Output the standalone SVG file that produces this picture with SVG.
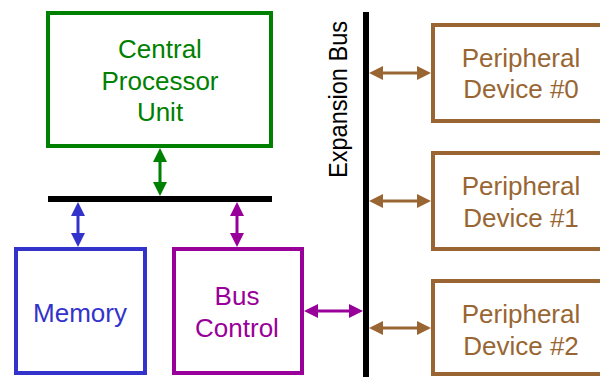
<svg xmlns="http://www.w3.org/2000/svg" width="600" height="377" viewBox="0 0 600 377">
  <style>
    text { font-family: "Liberation Sans", Arial, sans-serif; font-size: 26px; text-anchor: middle; }
    .box { fill: #ffffff; stroke-width: 4; }
    .bus { stroke: #000000; stroke-width: 6; fill: none; }
    .link { stroke-width: 3; fill: none; }
    .green { stroke: #008000; }
    .blue { stroke: #3333cc; }
    .purple { stroke: #990099; }
    .brown { stroke: #996633; }
  </style>
  <defs>
    <marker id="ah-green" viewBox="0 0 14 14" refX="10" refY="7" markerWidth="14" markerHeight="14" markerUnits="userSpaceOnUse" orient="auto-start-reverse">
      <path d="M0,0 L14,7 L0,14 z" fill="#008000"/>
    </marker>
    <marker id="ah-blue" viewBox="0 0 14 14" refX="10" refY="7" markerWidth="14" markerHeight="14" markerUnits="userSpaceOnUse" orient="auto-start-reverse">
      <path d="M0,0 L14,7 L0,14 z" fill="#3333cc"/>
    </marker>
    <marker id="ah-purple" viewBox="0 0 14 14" refX="10" refY="7" markerWidth="14" markerHeight="14" markerUnits="userSpaceOnUse" orient="auto-start-reverse">
      <path d="M0,0 L14,7 L0,14 z" fill="#990099"/>
    </marker>
    <marker id="ah-brown" viewBox="0 0 14 14" refX="10" refY="7" markerWidth="14" markerHeight="14" markerUnits="userSpaceOnUse" orient="auto-start-reverse">
      <path d="M0,0 L14,7 L0,14 z" fill="#996633"/>
    </marker>
  </defs>

  <rect width="600" height="377" fill="#ffffff"/>

  <!-- system bus and expansion bus -->
  <g id="system-bus">
    <line class="bus" x1="48" y1="199" x2="272" y2="199"/>
  </g>
  <g id="expansion-bus">
    <line class="bus" x1="366" y1="12" x2="366" y2="377"/>
    <text transform="translate(347,99.5) rotate(-90)" x="0" y="0" fill="#000000" font-size="19" textLength="157" lengthAdjust="spacingAndGlyphs">Expansion Bus</text>
  </g>

  <g id="cpu">
    <rect class="box green" x="48" y="13" width="223" height="133"/>
    <text x="160" y="58" fill="#008000">Central</text>
    <text x="160" y="90" fill="#008000">Processor</text>
    <text x="160" y="121" fill="#008000">Unit</text>
  </g>

  <g id="memory">
    <rect class="box blue" x="16" y="249" width="129" height="124"/>
    <text x="80" y="322" fill="#3333cc">Memory</text>
  </g>

  <g id="bus-control">
    <rect class="box purple" x="174" y="249" width="128" height="124"/>
    <text x="237" y="305" fill="#990099">Bus</text>
    <text x="237" y="337" fill="#990099">Control</text>
  </g>

  <g id="peripheral-0">
    <rect class="box brown" x="433" y="25" width="200" height="96"/>
    <text x="521" y="67" fill="#996633">Peripheral</text>
    <text x="521" y="98" fill="#996633">Device #0</text>
  </g>

  <g id="peripheral-1">
    <rect class="box brown" x="433" y="153" width="200" height="96"/>
    <text x="521" y="195" fill="#996633">Peripheral</text>
    <text x="521" y="227" fill="#996633">Device #1</text>
  </g>

  <g id="peripheral-2">
    <rect class="box brown" x="433" y="281" width="200" height="93"/>
    <text x="521" y="323" fill="#996633">Peripheral</text>
    <text x="521" y="355" fill="#996633">Device #2</text>
  </g>

  <!-- two-way links -->
  <g id="connectors">
    <line class="link green" x1="160" y1="152" x2="160" y2="192" marker-start="url(#ah-green)" marker-end="url(#ah-green)"/>
    <line class="link blue" x1="78" y1="206" x2="78" y2="243" marker-start="url(#ah-blue)" marker-end="url(#ah-blue)"/>
    <line class="link purple" x1="237" y1="206" x2="237" y2="243" marker-start="url(#ah-purple)" marker-end="url(#ah-purple)"/>
    <line class="link purple" x1="308" y1="311" x2="359" y2="311" marker-start="url(#ah-purple)" marker-end="url(#ah-purple)"/>
    <line class="link brown" x1="373" y1="73" x2="427" y2="73" marker-start="url(#ah-brown)" marker-end="url(#ah-brown)"/>
    <line class="link brown" x1="373" y1="201" x2="427" y2="201" marker-start="url(#ah-brown)" marker-end="url(#ah-brown)"/>
    <line class="link brown" x1="373" y1="328" x2="427" y2="328" marker-start="url(#ah-brown)" marker-end="url(#ah-brown)"/>
  </g>
</svg>
